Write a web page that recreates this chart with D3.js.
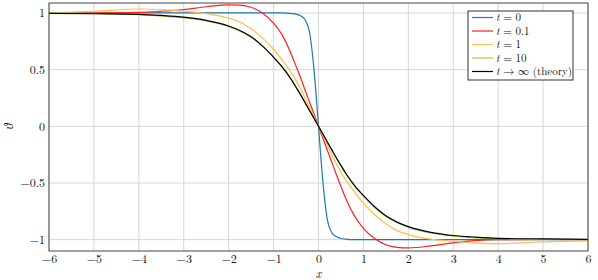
<!DOCTYPE html>
<html>
<head>
<meta charset="utf-8">
<script src="https://cdn.jsdelivr.net/npm/d3@7"></script>
<style>
  body { margin: 0; background: #fff; }
  svg text { font-family: "Latin Modern Roman", "CMU Serif", "Liberation Serif", "Times New Roman", "DejaVu Serif", serif; fill: #111; }
</style>
</head>
<body>
<div id="chart"></div>
<script>
var xs = [-6, -5, -4, -3.5, -3, -2.5, -2, -1.75, -1.5, -1.25, -1, -0.8, -0.6, -0.5, -0.4, -0.3, -0.2, -0.1, 0,
          0.1, 0.2, 0.3, 0.4, 0.5, 0.6, 0.8, 1, 1.25, 1.5, 1.75, 2, 2.5, 3, 3.5, 4, 5, 6];

var blueT0 = [1, 1, 1, 1, 1, 1, 1, 1, 1, 1, 1, 1, 0.995, 0.99, 0.975, 0.94, 0.83, 0.5, 0,
              -0.5, -0.83, -0.94, -0.975, -0.99, -0.995, -1, -1, -1, -1, -1, -1, -1, -1, -1, -1, -1, -1];
var redT01 = [1.0, 1.0, 1.005, 1.015, 1.03, 1.055, 1.072, 1.07, 1.05, 1.0, 0.91, 0.8, 0.63, 0.53, 0.43, 0.32, 0.215, 0.108, 0,
              -0.108, -0.215, -0.32, -0.43, -0.53, -0.63, -0.79, -0.9, -0.99, -1.045, -1.068, -1.073, -1.055, -1.028, -1.008, -1.0, -0.998, -1.0];
var yellowT1 = [1.0, 1.015, 1.035, 1.03, 1.015, 0.995, 0.955, 0.92, 0.86, 0.78, 0.68, 0.58, 0.47, 0.405, 0.33, 0.25, 0.165, 0.082, 0,
                -0.082, -0.165, -0.25, -0.33, -0.405, -0.47, -0.58, -0.68, -0.78, -0.86, -0.92, -0.955, -0.995, -1.015, -1.03, -1.035, -1.02, -1.01];
var greenT10 = [1.0, 0.997, 0.985, 0.973, 0.957, 0.929, 0.879, 0.84, 0.785, 0.705, 0.607, 0.517, 0.408, 0.343, 0.278, 0.209, 0.139, 0.07, 0,
                -0.07, -0.141, -0.212, -0.283, -0.349, -0.415, -0.526, -0.616, -0.716, -0.796, -0.851, -0.891, -0.941, -0.969, -0.984, -0.992, -0.997, -1.0];
var blackTheory = [0.997, 0.993, 0.988, 0.978, 0.963, 0.935, 0.885, 0.845, 0.79, 0.71, 0.61, 0.52, 0.41, 0.345, 0.28, 0.21, 0.14, 0.07, 0,
                   -0.07, -0.14, -0.21, -0.28, -0.345, -0.41, -0.52, -0.61, -0.71, -0.79, -0.845, -0.885, -0.935, -0.963, -0.978, -0.988, -0.993, -0.997];

var xTicks = [-6, -5, -4, -3, -2, -1, 0, 1, 2, 3, 4, 5, 6];
var yTicks = [-1, -0.5, 0, 0.5, 1];

var series = [
  {label: "0", values: blueT0, color: "#1f77b4"},
  {label: "0.1", values: redT01, color: "#ff1f1f"},
  {label: "1", values: yellowT1, color: "#ffbf48"},
  {label: "10", values: greenT10, color: "#9fd04a"},
  {label: "theory", values: blackTheory, color: "#000000"}
];

var W = 598, H = 280;
var mLeft = 49, mRight = 588, mTop = 3, mBottom = 251;
var serif = '"Latin Modern Roman", "CMU Serif", "Liberation Serif", "DejaVu Serif", serif';

var svg = d3.select("#chart").append("svg")
    .attr("width", W)
    .attr("height", H)
    .attr("font-family", serif);

var x = d3.scaleLinear().domain([-6, 6]).range([mLeft, mRight]);
var y = d3.scaleLinear().domain([-1.1, 1.088]).range([mBottom, mTop]);

/* grid */
svg.append("g").selectAll("line")
    .data(xTicks).enter().append("line")
    .attr("x1", d => x(d)).attr("x2", d => x(d))
    .attr("y1", mTop).attr("y2", mBottom)
    .attr("stroke", "#d6d6d6").attr("stroke-width", 1);
svg.append("g").selectAll("line")
    .data(yTicks).enter().append("line")
    .attr("x1", mLeft).attr("x2", mRight)
    .attr("y1", d => y(d)).attr("y2", d => y(d))
    .attr("stroke", "#d6d6d6").attr("stroke-width", 1);

/* curves */
var line = d3.line()
    .x((d, i) => x(xs[i]))
    .y(d => y(d))
    .curve(d3.curveMonotoneX);

svg.append("g").selectAll("path")
    .data(series).enter().append("path")
    .attr("d", d => line(d.values))
    .attr("fill", "none")
    .attr("stroke", d => d.color)
    .attr("stroke-width", 1.2);

/* frame */
svg.append("rect")
    .attr("x", mLeft).attr("y", mTop)
    .attr("width", mRight - mLeft).attr("height", mBottom - mTop)
    .attr("fill", "none").attr("stroke", "#444").attr("stroke-width", 1);

/* axes labels */
var fmt = d => d < 0 ? "\u2212" + Math.abs(d) : String(d);

var xAxis = d3.axisBottom(x).tickValues(xTicks).tickSize(0).tickPadding(3).tickFormat(fmt);
svg.append("g")
    .attr("transform", "translate(0," + mBottom + ")")
    .call(xAxis)
    .attr("font-family", serif)
    .call(g => g.select(".domain").remove())
    .selectAll("text")
    .style("font-size", "12px")
    .attr("fill", "#111");

var yAxis = d3.axisLeft(y).tickValues(yTicks).tickSize(0).tickPadding(4).tickFormat(fmt);
svg.append("g")
    .attr("transform", "translate(" + mLeft + ",0)")
    .call(yAxis)
    .attr("font-family", serif)
    .call(g => g.select(".domain").remove())
    .selectAll("text")
    .style("font-size", "12px")
    .attr("fill", "#111");

svg.append("text")
    .attr("x", x(0)).attr("y", 278)
    .attr("text-anchor", "middle")
    .style("font-size", "12px").style("font-style", "italic")
    .text("x");

svg.append("text")
    .attr("transform", "translate(13," + y(0) + ") rotate(-90)")
    .attr("text-anchor", "middle")
    .style("font-size", "12px").style("font-style", "italic")
    .text("\u03D1");

/* legend */
var lg = svg.append("g").attr("transform", "translate(468,11)");
lg.append("rect")
    .attr("width", 105).attr("height", 69)
    .attr("fill", "#fff").attr("stroke", "#333").attr("stroke-width", 1);

var entries = lg.selectAll("g.entry")
    .data(series).enter().append("g")
    .attr("class", "entry")
    .attr("transform", (d, i) => "translate(0," + (6.5 + i * 13.5) + ")");

entries.append("line")
    .attr("x1", 4).attr("x2", 25)
    .attr("y1", 0).attr("y2", 0)
    .attr("stroke", d => d.color).attr("stroke-width", 1.2);

var lt = entries.append("text")
    .attr("x", 28).attr("y", 3.5)
    .style("font-size", "11px");
lt.append("tspan").style("font-style", "italic").text("t");
lt.append("tspan").text(d => d.label === "theory" ? " \u2192 \u221E (theory)" : " = " + d.label);
</script>
</body>
</html>
